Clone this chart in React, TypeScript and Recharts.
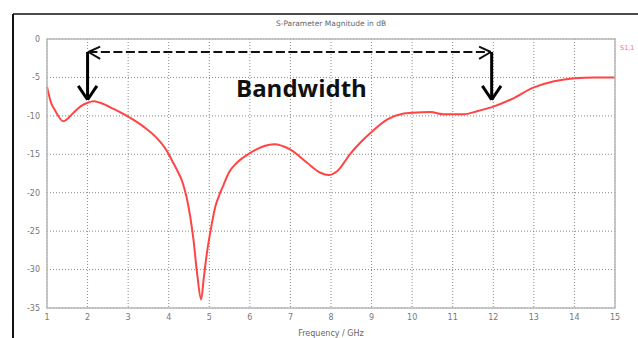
import React from "react";
import { LineChart, Line, XAxis, YAxis, CartesianGrid, ReferenceLine } from "recharts";

const freqGHz = [1, 1.1, 1.2, 1.4, 1.66, 1.82, 2.0, 2.15, 2.31, 2.64, 3.0, 3.38, 3.71, 3.96, 4.08, 4.2, 4.35, 4.44, 4.53, 4.61, 4.7, 4.8, 4.86, 4.94, 5.03, 5.15, 5.27, 5.35, 5.48, 5.68, 6.0, 6.59, 7.0, 7.41, 7.74, 7.94, 8.15, 8.48, 8.72, 9.0, 9.38, 9.79, 10.0, 10.45, 10.78, 11.27, 11.6, 12.0, 12.42, 13.0, 13.5, 14.0, 14.5, 15];
const s11dB = [-6.2, -8.3, -9.3, -10.7, -9.55, -8.8, -8.3, -8.1, -8.3, -9.1, -10.1, -11.4, -12.9, -14.6, -15.8, -17.0, -18.8, -20.6, -23.1, -26.1, -30.5, -33.9, -31.3, -27.9, -25.0, -21.8, -20.0, -19.0, -17.4, -16.1, -14.85, -13.7, -14.4, -16.1, -17.4, -17.7, -17.2, -14.9, -13.5, -12.1, -10.5, -9.7, -9.6, -9.5, -9.8, -9.8, -9.4, -8.8, -7.9, -6.3, -5.5, -5.1, -5.0, -5.0];

const xTicks = [1, 2, 3, 4, 5, 6, 7, 8, 9, 10, 11, 12, 13, 14, 15];
const yTicks = [0, -5, -10, -15, -20, -25, -30, -35];

const title = "S-Parameter Magnitude in dB";
const xLabel = "Frequency / GHz";
const legendLabel = "S1,1";
const bandLabel = "Bandwidth";

// annotation segments in data coordinates
const dashedSegments = [
  [{ x: 2.02, y: -1.69 }, { x: 11.94, y: -1.69 }],
];
const dashedHeads = [
  [{ x: 2.02, y: -1.69 }, { x: 2.31, y: -1.0 }],
  [{ x: 2.02, y: -1.69 }, { x: 2.31, y: -2.6 }],
  [{ x: 11.94, y: -1.69 }, { x: 11.65, y: -1.0 }],
  [{ x: 11.94, y: -1.69 }, { x: 11.65, y: -2.6 }],
];
const solidArrows = [
  [{ x: 2.0, y: -1.69 }, { x: 2.0, y: -7.9 }],
  [{ x: 1.77, y: -6.1 }, { x: 2.0, y: -7.9 }],
  [{ x: 2.23, y: -6.1 }, { x: 2.0, y: -7.9 }],
  [{ x: 11.96, y: -1.69 }, { x: 11.96, y: -7.9 }],
  [{ x: 11.73, y: -6.1 }, { x: 11.96, y: -7.9 }],
  [{ x: 12.19, y: -6.1 }, { x: 11.96, y: -7.9 }],
];

const data = freqGHz.map((f, i) => ({ f, s: s11dB[i] }));

const W = 638;
const H = 338;
const M = { top: 39, right: 23, left: 0, bottom: 0 };
const Y_W = 47;
const X_H = 30;
const PL = M.left + Y_W;
const PT = M.top;
const PR = W - M.right;
const PB = H - M.bottom - X_H;

const tickStyle = { fontSize: 8, fill: "#777", fontFamily: "DejaVu Sans" };

export default function App() {
  return (
    <div style={{ position: "absolute", left: 0, top: 0, width: W, height: H, background: "#fff" }}>
      <LineChart width={W} height={H} data={data} margin={M}>
        <CartesianGrid stroke="#8a8a8a" strokeDasharray="1 2" strokeWidth={1} />
        <XAxis
          dataKey="f"
          type="number"
          domain={[1, 15]}
          ticks={xTicks}
          height={X_H}
          axisLine={false}
          tickLine={false}
          tickSize={0}
          tickMargin={6}
          tick={tickStyle}
          interval={0}
        />
        <YAxis
          type="number"
          domain={[-35, 0]}
          ticks={yTicks}
          width={Y_W}
          axisLine={false}
          tickLine={false}
          tickSize={0}
          tickMargin={7}
          tick={tickStyle}
          interval={0}
        />
        {dashedSegments.map((seg, i) => (
          <ReferenceLine key={"d" + i} segment={seg} stroke="#111" strokeWidth={2} strokeDasharray="9 3.5" />
        ))}
        {dashedHeads.map((seg, i) => (
          <ReferenceLine key={"h" + i} segment={seg} stroke="#111" strokeWidth={2} />
        ))}
        {solidArrows.map((seg, i) => (
          <ReferenceLine key={"a" + i} segment={seg} stroke="#000" strokeWidth={3} />
        ))}
        <Line
          dataKey="s"
          type="monotone"
          stroke="#ff4444"
          strokeWidth={2}
          dot={false}
          isAnimationActive={false}
        />
      </LineChart>
      <svg
        width={W}
        height={H}
        style={{ position: "absolute", left: 0, top: 0, pointerEvents: "none" }}
      >
        <rect x={PL} y={PT} width={PR - PL} height={PB - PT} fill="none" stroke="#b8b8b8" strokeWidth={1.5} />
        <line x1={13} y1={14} x2={W} y2={14} stroke="#111" strokeWidth={1.5} />
        <line x1={13} y1={14} x2={13} y2={H} stroke="#111" strokeWidth={2} />
        <text x={331} y={26} textAnchor="middle" fontSize={7.5} fill="#666" fontFamily="DejaVu Sans">{title}</text>
        <text x={331} y={336} textAnchor="middle" fontSize={8} fill="#666" fontFamily="DejaVu Sans">{xLabel}</text>
        <text x={620} y={50} fontSize={6.5} fill="#ff7070" fontFamily="DejaVu Sans">{legendLabel}</text>
        <text x={236} y={97} fontSize={24} fontWeight="bold" fill="#111" fontFamily="Open Sans">{bandLabel}</text>
      </svg>
    </div>
  );
}
